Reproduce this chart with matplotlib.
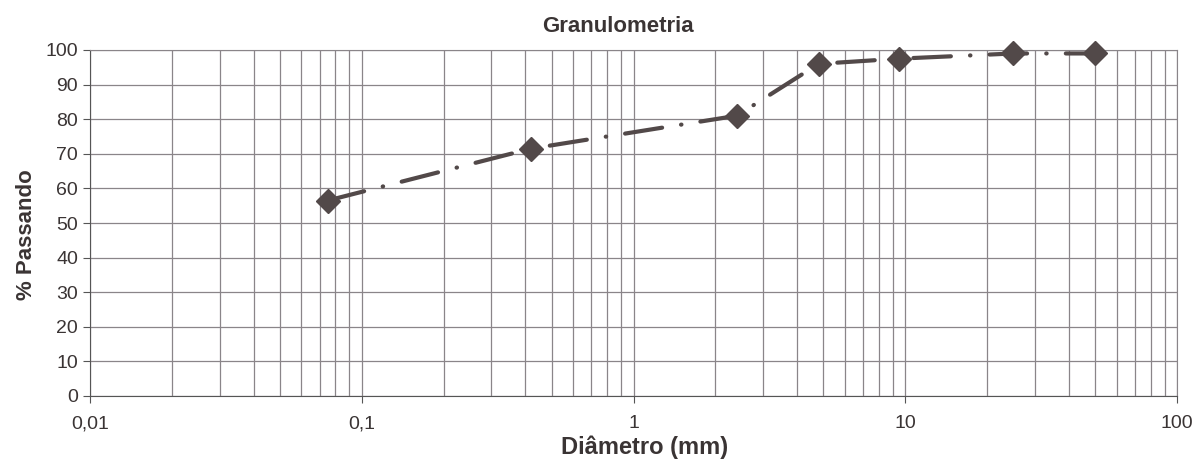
import matplotlib
matplotlib.use("Agg")
import matplotlib.pyplot as plt
from matplotlib.ticker import FixedLocator, LogLocator, NullFormatter, FuncFormatter

plt.rcParams["font.family"] = ["Liberation Sans", "DejaVu Sans"]

# peneiras (mm) e % passando
diametro = [0.075, 0.42, 2.4, 4.8, 9.5, 25, 50]
passando = [56.5, 71.5, 81, 96, 97.5, 99, 99]

x_ticks = [0.01, 0.1, 1, 10, 100]
x_labels = ["0,01", "0,1", "1", "10", "100"]
y_ticks = list(range(0, 101, 10))

cor = "#524949"
grade = "#8a8589"
texto = "#3a3434"

fig = plt.figure(figsize=(12.01, 4.59), dpi=100)
L, R, T, B = 90, 1177, 50, 396
ax = fig.add_axes([L / 1201, 1 - B / 459, (R - L) / 1201, (B - T) / 459])

ax.set_xscale("log")
ax.set_xlim(0.01, 100)
ax.set_ylim(0, 100)

# traço-ponto: traço longo, ponto
ax.plot(diametro, passando, color=cor, lw=3, dashes=(9, 4.6, 0.1, 4.6),
        marker="D", markersize=12.5, markerfacecolor=cor, markeredgecolor=cor,
        dash_capstyle="round", clip_on=False, zorder=3)

ax.xaxis.set_major_locator(FixedLocator(x_ticks))
ax.xaxis.set_major_formatter(FuncFormatter(lambda v, p: x_labels[x_ticks.index(v)] if v in x_ticks else ""))
ax.xaxis.set_minor_locator(LogLocator(base=10, subs=range(2, 10)))
ax.xaxis.set_minor_formatter(NullFormatter())
ax.set_yticks(y_ticks)

ax.grid(True, which="major", color=grade, lw=0.9)
ax.grid(True, which="minor", axis="x", color=grade, lw=0.9)
ax.set_axisbelow(True)

for s in ax.spines.values():
    s.set_color(grade)
    s.set_zorder(1)
ax.spines["bottom"].set_color("#555")
ax.spines["left"].set_color("#555")

ax.tick_params(axis="both", which="major", labelsize=14, labelcolor=texto, colors="#555", length=5, width=0.8)
ax.tick_params(axis="x", which="minor", length=0)
ax.tick_params(axis="x", pad=9)

ax.set_title("Granulometria", fontsize=16, fontweight="bold", color=texto, pad=13)
ax.title.set_x((618 - L) / (R - L))
ax.set_ylabel("% Passando", fontsize=16, fontweight="bold", color=texto, labelpad=6)
ax.yaxis.label.set_y((B - 235) / (B - T))
ax.set_xlabel("Diâmetro (mm)", fontsize=17, fontweight="bold", color=texto, labelpad=2)
ax.xaxis.label.set_x((645 - L) / (R - L))

fig.savefig("out.png", dpi=100)
